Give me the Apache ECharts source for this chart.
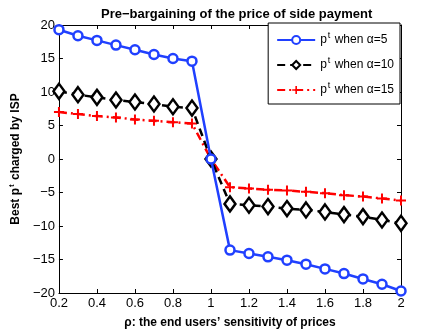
<!DOCTYPE html>
<html>
<head>
<meta charset="utf-8">
<script src="https://cdn.jsdelivr.net/npm/echarts@6/dist/echarts.min.js"></script>
<style>
  html, body { margin: 0; padding: 0; background: #fff; }
  #chart { width: 443px; height: 334px; }
</style>
</head>
<body>
<div id="chart"></div>
<script>
// rho values on the x axis
const rho = [0.2, 0.3, 0.4, 0.5, 0.6, 0.7, 0.8, 0.9, 1.0, 1.1, 1.2, 1.3, 1.4, 1.5, 1.6, 1.7, 1.8, 1.9, 2.0]
// best p^t for each alpha
const alpha5 = [19.3, 18.4, 17.7, 17.0, 16.3, 15.6, 15.0, 14.6, 0, -13.6, -14.1, -14.6, -15.1, -15.7, -16.4, -17.1, -17.9, -18.7, -19.7]
const alpha10 = [10.1, 9.6, 9.2, 8.8, 8.5, 8.2, 7.8, 7.6, 0, -6.7, -6.9, -7.1, -7.4, -7.6, -7.9, -8.3, -8.6, -9.1, -9.6]
const alpha15 = [7.0, 6.7, 6.4, 6.2, 5.9, 5.7, 5.5, 5.3, 0, -4.2, -4.4, -4.6, -4.7, -4.9, -5.1, -5.4, -5.6, -5.9, -6.2]
const seriesNames = ['α=5', 'α=10', 'α=15']

const font = 'Liberation Sans, Arial, sans-serif'
const pair = ys => rho.map((x, i) => [x, ys[i]])
const minus = v => String(v).replace('-', '−')

const chartDom = document.getElementById('chart')
const myChart = echarts.init(chartDom)

const frameAxis = {
  axisLine: {onZero: false, lineStyle: {color: '#000'}},
  axisTick: {inside: true, length: 4, lineStyle: {color: '#000'}},
  splitLine: {show: false}
}

const option = {
  animation: false,
  title: {
    text: 'Pre−bargaining of the price of side payment',
    left: 96,
    top: 3,
    textStyle: {fontFamily: font, fontSize: 13, fontWeight: 'bold', color: '#000'}
  },
  legend: {
    orient: 'vertical',
    right: 43,
    top: 23,
    itemWidth: 38,
    itemHeight: 10,
    itemGap: 10,
    padding: [8, 6, 8, 8],
    borderColor: '#000',
    borderWidth: 1,
    backgroundColor: '#fff',
    formatter: name => '{p|p}{s|t}{p| when ' + name + '}',
    textStyle: {
      fontFamily: font, fontSize: 12, color: '#000',
      rich: {
        p: {fontFamily: font, fontSize: 12, color: '#000'},
        s: {fontFamily: font, fontSize: 9, color: '#000', verticalAlign: 'top', padding: [0, 1, 9, 1]}
      }
    }
  },
  grid: {left: 58, right: 42, top: 25, bottom: 37},
  xAxis: [
    Object.assign({
      type: 'value', min: 0.2, max: 2, interval: 0.2,
      name: 'ρ: the end users’ sensitivity of prices',
      nameLocation: 'middle', nameGap: 24,
      nameTextStyle: {fontFamily: font, fontSize: 12, fontWeight: 'bold', color: '#000'},
      axisLabel: {fontFamily: font, fontSize: 13, color: '#000', margin: 4}
    }, frameAxis),
    Object.assign({
      type: 'value', min: 0.2, max: 2, interval: 0.2, position: 'top',
      axisLabel: {show: false}
    }, frameAxis)
  ],
  yAxis: [
    Object.assign({
      type: 'value', min: -20, max: 20, interval: 5,
      name: '{b|Best p}{s|t}{b| charged by ISP}',
      nameLocation: 'middle', nameGap: 29, nameRotate: 90,
      nameTextStyle: {
        rich: {
          b: {fontFamily: font, fontSize: 12, fontWeight: 'bold', color: '#000'},
          s: {fontFamily: font, fontSize: 8, fontWeight: 'bold', color: '#000', verticalAlign: 'top', padding: [0, 1, 8, 1]}
        }
      },
      axisLabel: {fontFamily: font, fontSize: 13, color: '#000', margin: 4, formatter: minus}
    }, frameAxis),
    Object.assign({
      type: 'value', min: -20, max: 20, interval: 5, position: 'right',
      axisLabel: {show: false}
    }, frameAxis)
  ],
  series: [
    {
      name: seriesNames[0],
      type: 'line',
      data: pair(alpha5),
      symbol: 'circle',
      symbolSize: 9,
      showAllSymbol: true,
      z: 4,
      lineStyle: {color: '#2040ff', width: 2.5},
      itemStyle: {color: '#fff', borderColor: '#2040ff', borderWidth: 2.5}
    },
    {
      name: seriesNames[1],
      type: 'line',
      data: pair(alpha10),
      symbol: 'diamond',
      symbolSize: [11, 15],
      showAllSymbol: true,
      z: 3,
      lineStyle: {color: '#000', width: 2.5, type: [8, 5]},
      itemStyle: {color: '#fff', borderColor: '#000', borderWidth: 2.5}
    },
    {
      name: seriesNames[2],
      type: 'line',
      data: pair(alpha15),
      symbol: 'path://M4,0H6V4H10V6H6V10H4V6H0V4H4Z',
      symbolSize: 10,
      showAllSymbol: true,
      z: 2,
      lineStyle: {color: '#ff0000', width: 2.5, type: [8, 4, 2, 4]},
      itemStyle: {color: '#ff0000', borderWidth: 0}
    }
  ]
}

option && myChart.setOption(option)
</script>
</body>
</html>
